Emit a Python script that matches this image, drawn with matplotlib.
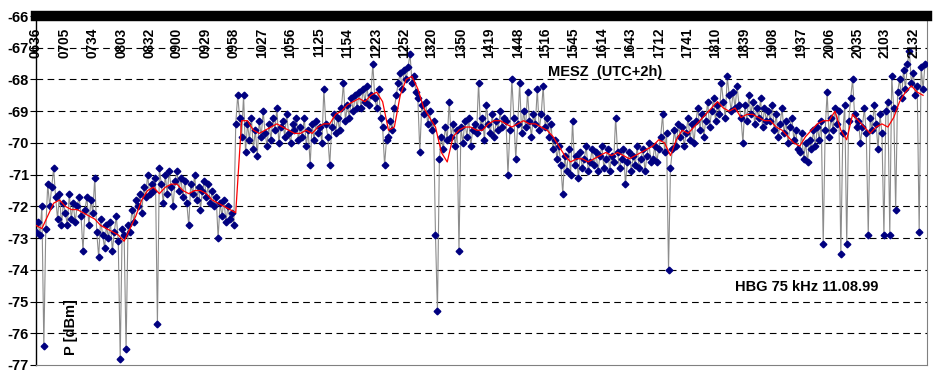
import matplotlib
matplotlib.use("Agg")
import matplotlib.pyplot as plt
import numpy as np

plt.rcParams["font.family"] = ["Liberation Sans", "DejaVu Sans"]

# Messwerte alle 2 Minuten ab 06:36 (MESZ), P in dBm
schritt = 2
pegel = [
    -72.8, -72.5, -72.9, -72.0, -76.4, -72.7, -71.3, -72.0, -71.4, -70.8, -71.7, -72.4, -71.6, -72.6, -71.9,
    -72.2, -72.6, -71.6, -72.4, -71.9, -72.5, -72.0, -71.7, -72.3, -73.4, -72.1, -71.7, -72.6, -71.8, -72.2,
    -71.1, -72.8, -73.6, -72.4, -72.9, -73.3, -72.6, -73.0, -72.5, -73.4, -72.8, -72.3, -73.1, -76.8, -72.7,
    -72.9, -76.5, -72.6, -72.8, -72.1, -72.5, -71.8, -72.0, -71.6, -72.2, -71.4, -71.7, -71.0, -71.6, -71.3,
    -71.5, -71.1, -75.7, -70.8, -71.3, -71.9, -71.0, -71.6, -70.9, -71.4, -72.0, -71.2, -70.9, -71.5, -71.1,
    -71.7, -71.2, -71.9, -72.6, -71.3, -71.6, -71.0, -71.8, -71.4, -72.1, -71.5, -71.2, -71.7, -71.3, -71.9,
    -71.5, -72.0, -71.7, -73.0, -71.9, -72.3, -71.8, -72.5, -72.0, -72.4, -72.2, -72.6, -69.4, -68.5, -69.2,
    -69.8, -68.5, -70.3, -69.4, -69.9, -69.2, -70.2, -69.6, -70.4, -69.3, -69.8, -69.0, -69.7, -70.1, -69.4,
    -69.9, -69.2, -69.6, -68.9, -70.0, -69.5, -69.3, -69.8, -69.1, -69.7, -70.0, -69.4, -69.6, -69.2, -69.9,
    -69.5, -69.8, -69.2, -70.1, -69.6, -70.7, -69.4, -69.9, -69.3, -69.7, -69.5, -70.0, -68.3, -69.4, -69.8,
    -70.7, -69.5, -69.1, -69.7, -69.2, -69.6, -68.9, -68.1, -69.3, -68.8, -69.2, -68.6, -69.0, -68.5, -68.9,
    -68.4, -68.9, -68.3, -68.7, -68.2, -68.8, -68.5, -67.5, -68.6, -68.9, -68.3, -69.2, -69.5, -70.7, -69.9,
    -69.8, -69.3, -69.6, -68.9, -68.5, -68.1, -67.8, -68.3, -67.7, -68.0, -67.6, -67.2, -68.1, -67.9, -68.4,
    -68.6, -70.3, -68.8, -69.1, -68.7, -69.4, -69.0, -69.6, -69.3, -72.9, -75.3, -70.5, -69.8, -70.2, -69.5,
    -69.9, -68.7, -69.8, -69.4, -70.1, -69.6, -73.4, -69.5, -70.0, -69.3, -69.8, -69.2, -70.1, -69.6, -69.4,
    -69.7, -68.1, -69.5, -69.2, -69.9, -68.8, -69.4, -69.7, -69.1, -69.8, -69.3, -69.6, -69.0, -69.5, -69.2,
    -69.3, -71.0, -69.6, -68.0, -69.2, -70.5, -69.4, -68.1, -69.7, -69.0, -69.5, -68.4, -69.3, -69.8, -69.1,
    -69.4, -68.3, -69.6, -69.1, -68.2, -69.5, -69.2, -69.8, -69.4, -70.2, -69.9, -70.5, -70.1, -70.7, -71.6,
    -70.4, -70.9, -70.2, -71.0, -69.3, -70.7, -70.4, -71.1, -70.3, -70.8, -70.5, -70.1, -70.9, -70.6, -70.2,
    -70.7, -70.3, -70.9, -70.4, -70.1, -70.8, -70.5, -70.2, -70.9, -70.4, -70.6, -69.2, -70.3, -70.8, -70.5,
    -70.2, -71.3, -70.6, -70.3, -70.9, -70.4, -70.7, -70.1, -70.8, -70.5, -70.2, -70.9, -70.4, -70.0, -70.6,
    -70.5, -70.1, -70.6, -70.2, -69.8, -69.1, -70.3, -69.7, -74.0, -70.8, -70.2, -69.6, -70.1, -69.4, -69.8,
    -69.5, -70.1, -69.7, -69.2, -69.9, -69.4, -70.0, -69.3, -68.9, -69.6, -69.1, -69.8, -69.3, -68.7, -69.5,
    -69.0, -68.6, -69.3, -68.8, -69.1, -68.1, -68.7, -69.2, -67.9, -68.5, -69.0, -68.4, -68.9, -68.2, -68.8,
    -69.2, -70.0, -68.8, -69.3, -68.5, -69.1, -68.7, -69.4, -68.9, -69.2, -68.6, -69.5, -68.9, -69.3, -69.0,
    -69.3, -68.8, -69.6, -69.1, -69.8, -69.4, -68.9, -69.7, -69.3, -70.0, -69.5, -69.2, -69.9, -69.6, -70.2,
    -70.3, -69.7, -70.5, -70.0, -70.6, -69.9, -70.2, -69.6, -70.1, -69.5, -69.9, -69.3, -73.2, -69.6, -68.4,
    -69.8, -69.2, -69.6, -68.9, -69.4, -69.0, -73.5, -69.7, -68.8, -73.2, -69.3, -68.6, -68.0, -69.1, -69.5,
    -69.3, -70.0, -69.5, -68.9, -69.7, -72.9, -69.2, -69.6, -68.8, -69.4, -70.2, -69.1, -69.7, -72.9, -69.0,
    -68.7, -72.9, -67.9, -68.9, -72.1, -68.4, -68.0, -68.6, -67.7, -68.3, -67.5, -67.1, -68.1, -67.8, -68.5,
    -68.2, -72.8, -67.6, -68.3, -67.5,
]

# gleitender Mittelwert (rote Kurve), alle 6 Minuten
schritt_mittel = 6
mittel = [
    -72.6, -72.7, -72.3, -71.9, -71.8, -72.0, -72.1, -72.1, -72.2, -72.3,
    -72.4, -72.6, -72.7, -72.8, -72.9, -73.1, -72.7, -72.3, -71.8, -71.5,
    -71.4, -71.6, -71.4, -71.3, -71.3, -71.5, -71.6, -71.5, -71.5, -71.6,
    -71.8, -71.9, -72.0, -72.1, -72.2, -69.3, -69.3, -69.6, -69.7, -69.6,
    -69.5, -69.4, -69.5, -69.6, -69.7, -69.7, -69.6, -69.7, -69.5, -69.4,
    -69.4, -69.1, -69.0, -68.8, -68.7, -68.6, -68.7, -68.5, -68.4, -68.7,
    -69.6, -69.5, -68.5, -68.0, -67.9, -68.3, -68.9, -69.2, -69.5, -70.3,
    -70.6, -69.8, -69.6, -69.5, -69.5, -69.6, -69.6, -69.4, -69.3, -69.3,
    -69.4, -69.5, -69.4, -69.3, -69.4, -69.4, -69.5, -69.6, -69.8, -70.1,
    -70.4, -70.6, -70.5, -70.5, -70.6, -70.5, -70.4, -70.3, -70.4, -70.3,
    -70.4, -70.5, -70.4, -70.3, -70.2, -70.1, -69.9, -70.0, -70.4, -69.9,
    -69.6, -69.7, -69.5, -69.3, -69.1, -68.9, -68.7, -68.9, -69.0, -68.9,
    -69.2, -69.1, -69.1, -69.2, -69.3, -69.3, -69.5, -69.6, -69.8, -70.0,
    -70.1, -69.8, -69.6, -69.4, -69.3, -69.3, -69.0, -69.6, -69.9, -69.1,
    -69.3, -69.5, -69.7, -69.5, -69.4, -69.5, -69.2, -68.7, -68.4, -68.2,
    -68.4, -68.5,
]

zeiten = ["0636", "0705", "0734", "0803", "0832", "0900", "0929", "0958",
          "1027", "1056", "1125", "1154", "1223", "1252", "1320", "1350",
          "1419", "1448", "1516", "1545", "1614", "1643", "1712", "1741",
          "1810", "1839", "1908", "1937", "2006", "2035", "2103", "2132"]


def minuten(s):
    return int(s[:2]) * 60 + int(s[2:]) - (6 * 60 + 36)


x = np.arange(len(pegel)) * schritt
xm = np.arange(len(mittel)) * schritt_mittel

fig = plt.figure(figsize=(9.36, 3.78), dpi=100)
ax = fig.add_axes([36 / 936, 13 / 378, 891 / 936, 349 / 378])

ax.plot(x, pegel, color="#8c8c8c", lw=0.8, zorder=2)
ax.plot(x, pegel, ls="none", marker="D", ms=3.4, color="#000080", zorder=3)
ax.plot(xm, mittel, color="#ff0000", lw=0.9, zorder=4)

ax.set_xlim(0, 910)
ax.set_ylim(-77, -66)
ax.set_yticks(range(-77, -65))
ax.set_yticklabels([str(v) for v in range(-77, -65)], fontsize=10.5, fontweight="bold")
ax.tick_params(axis="y", direction="out", length=4, width=0.8, pad=1)
ax.set_xticks([])

for v in range(-76, -66):
    ax.axhline(v, color="black", lw=0.8, ls=(0, (6, 4)), zorder=1)

# dicker Balken oben bei -66
ax.axhline(-66, color="black", lw=7.5, zorder=5, clip_on=False)

ax.spines["top"].set_visible(False)
ax.spines["left"].set_color("black")
ax.spines["left"].set_linewidth(1.0)
ax.spines["bottom"].set_color("#808080")
ax.spines["right"].set_color("#808080")

for z in zeiten:
    ax.text(minuten(z), 0.966, z, transform=ax.get_xaxis_transform(),
            rotation=90, ha="center", va="top", fontsize=9.8, fontweight="bold")

ax.text(0.575, 0.84, "MESZ  (UTC+2h)", transform=ax.transAxes,
        ha="left", va="center", fontsize=10.5, fontweight="bold")
ax.text(0.7845, 0.2235, "HBG 75 kHz 11.08.99", transform=ax.transAxes,
        ha="left", va="center", fontsize=10.5, fontweight="bold")
ax.text(0.0393, 0.109, "P [dBm]", transform=ax.transAxes, rotation=90,
        ha="center", va="center", fontsize=10.5, fontweight="bold")

fig.savefig("out.png", dpi=100)
